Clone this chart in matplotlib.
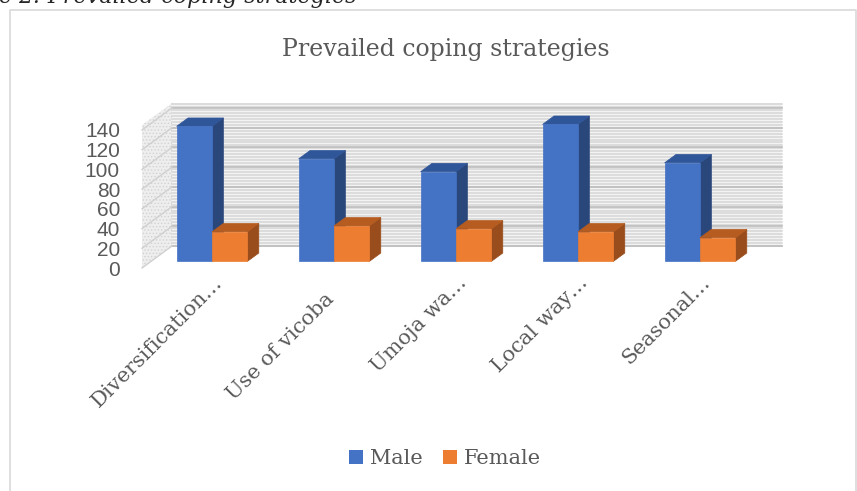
import numpy as np
import matplotlib
matplotlib.use('Agg')
import matplotlib.pyplot as plt
from matplotlib.patches import Polygon, Patch
from matplotlib.lines import Line2D

# ---------------- data ----------------
categories = ["Diversification…", "Use of vicoba", "Umoja wa…", "Local way…", "Seasonal…"]
series_names = ["Male", "Female"]
male = [137, 104, 91, 139, 100]
female = [30, 36, 33, 30, 24]
y_ticks = [0, 20, 40, 60, 80, 100, 120, 140]
title = "Prevailed coping strategies"
caption = "Figure 2: Prevailed coping strategies"

# ---------------- style ----------------
W, H = 857, 491
TXT = '#595959'
BLUE = ('#4472C4', '#30569A', '#2A477C')     # front, top, side
ORANGE = ('#ED7D31', '#B65C20', '#9A4D1C')
SERIF = ['DejaVu Serif']
SANS = ['Liberation Sans', 'DejaVu Sans']

fig = plt.figure(figsize=(W / 100, H / 100), dpi=100)

# axes == front plane of the walls (pixel geometry)
ax_left, ax_right, ax_base = 142, 752, 268
px_per_unit = 0.986
ymax = 145
ax_top = ax_base - ymax * px_per_unit
ax = fig.add_axes([ax_left / W, 1 - ax_base / H, (ax_right - ax_left) / W, (ax_base - ax_top) / H])
ax.set_xlim(-0.5, len(categories) - 0.5)
ax.set_ylim(0, ymax)
for s in ax.spines.values():
    s.set_visible(False)
ax.patch.set_alpha(0)

# full depth of the 3-D box, in data units
DX = 30 / ((ax_right - ax_left) / len(categories))
DY = 22 / px_per_unit
F0, F1 = 0.30, 0.68      # bar depth range
BW = 0.29                # bar width

def at(x, y, f):
    return (x + f * DX, y + f * DY)

x0, x1 = -0.5, len(categories) - 0.5
# back wall
ax.add_patch(Polygon([at(x0, 0, 1), at(x1, 0, 1), at(x1, ymax, 1), at(x0, ymax, 1)],
                     closed=True, facecolor='#f3f3f3', edgecolor='none', clip_on=False, zorder=1))
for v in np.arange(0, ymax + 0.01, 3.0):
    ax.plot([at(x0, v, 1)[0], at(x1, v, 1)[0]], [at(x0, v, 1)[1]] * 2,
            color='#d6d6d6', lw=1.1, clip_on=False, zorder=1.5)
for v in y_ticks:
    ax.plot([at(x0, v, 1)[0], at(x1, v, 1)[0]], [at(x0, v, 1)[1]] * 2,
            color='#bdbdbd', lw=1.2, clip_on=False, zorder=1.6)
# side wall
plt.rcParams['hatch.linewidth'] = 0.6
ax.add_patch(Polygon([at(x0, 0, 0), at(x0, ymax, 0), at(x0, ymax, 1), at(x0, 0, 1)],
                     closed=True, facecolor='#eeeeee', edgecolor='#d2d2d2', hatch='.....',
                     lw=0, clip_on=False, zorder=1))
for v in y_ticks:
    p0, p1 = at(x0, v, 0), at(x0, v, 1)
    ax.plot([p0[0], p1[0]], [p0[1], p1[1]], color='#d0d0d0', lw=1.0, clip_on=False, zorder=1.7)

# bars
def bar3d(xl, v, cols):
    xr = xl + BW
    side = [at(xr, 0, F0), at(xr, v, F0), at(xr, v, F1), at(xr, 0, F1)]
    top = [at(xl, v, F0), at(xr, v, F0), at(xr, v, F1), at(xl, v, F1)]
    ax.add_patch(Polygon(side, closed=True, facecolor=cols[2], edgecolor=cols[2], lw=0.5,
                         clip_on=False, zorder=3))
    ax.add_patch(Polygon(top, closed=True, facecolor=cols[1], edgecolor=cols[1], lw=0.5,
                         clip_on=False, zorder=3))
    ax.bar(xl + F0 * DX, v, width=BW, bottom=F0 * DY, align='edge', color=cols[0],
           edgecolor=cols[0], lw=0.5, clip_on=False, zorder=3)

for i in range(len(categories)):
    bar3d(i - BW, male[i], BLUE)
    bar3d(i, female[i], ORANGE)

# y axis labels
ax.set_xticks([])
ax.set_yticks(y_ticks)
ax.set_yticklabels([str(t) for t in y_ticks])
ax.tick_params(axis='y', length=0, pad=22 * 0.72, labelsize=15, labelcolor=TXT)
for t in ax.get_yticklabels():
    t.set_family(SANS)

# category labels (rotated)
for i, lab in enumerate(categories):
    if lab.endswith('…'):
        lx, ly = i + 0.166, -15.9
    else:
        lx, ly = i + 0.08, -32.5
    ax.text(lx, ly, lab, rotation=45, rotation_mode='anchor', ha='right', va='baseline',
            fontsize=15, color=TXT, family=SERIF, clip_on=False)

# title
fig.text(446 / W, 1 - 55.7 / H, title, ha='center', va='baseline', fontsize=17,
         color=TXT, family=SERIF)

# legend
handles = [Patch(facecolor=BLUE[0]), Patch(facecolor=ORANGE[0])]
fig.legend(handles, series_names, loc='center', bbox_to_anchor=(445 / W, 1 - 459 / H),
           ncol=2, frameon=False, handlelength=0.67, handleheight=0.67,
           handletextpad=0.34, columnspacing=1.0, labelcolor=TXT,
           prop={'family': SERIF, 'size': 15})

# outer border of the chart area
fig.add_artist(Line2D([10 / W, 10 / W, 855.5 / W, 855.5 / W], [0, 1 - 10 / H, 1 - 10 / H, 0],
                      color='#d9d9d9', lw=1.2, transform=fig.transFigure))

# cut-off caption at the very top
fig.text(357 / W, 1 - 3 / H, caption, ha='right', va='baseline', fontsize=16,
         style='italic', color='#262626', family=SERIF)

fig.savefig('out.png', dpi=100)
